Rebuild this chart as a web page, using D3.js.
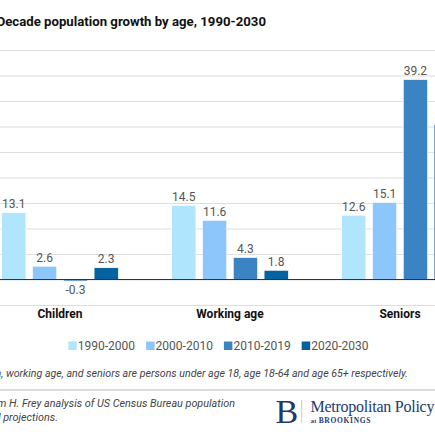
<!DOCTYPE html>
<html>
<head>
<meta charset="utf-8">
<script src="https://cdn.jsdelivr.net/npm/d3@7"></script>
<style>
  body { margin: 0; background: #fff; overflow: hidden; }
  svg { display: block; font-family: Roboto, "Noto Sans", sans-serif; }
</style>
</head>
<body>
<script>
// chart data
const categories = ["Children", "Working age", "Seniors"];
const periods = ["1990-2000", "2000-2010", "2010-2019", "2020-2030"];
const growth1990 = [13.1, 14.5, 12.6];
const growth2000 = [2.6, 11.6, 15.1];
const growth2010 = [-0.3, 4.3, 39.2];
const growth2020 = [2.3, 1.8, 30.4];
const yTicks = [-5, 0, 5, 10, 15, 20, 25, 30, 35, 40, 45];
const colors = ["#b0e6fd", "#8cc6fb", "#3c83c4", "#05629f"];

const w = 435;
const h = 435;

const svg = d3.select("body")
    .append("svg")
    .attr("width", w)
    .attr("height", h);

// rows: one entry per category, values in period order
const allSeries = [growth1990, growth2000, growth2010, growth2020];
const rows = categories.map((c, i) => ({
    cat: c,
    values: periods.map((p, j) => ({ period: p, value: allSeries[j][i] }))
}));

// scales
const y = d3.scaleLinear().domain([-5, 45]).range([305, 50]);

const x0 = d3.scaleBand()
    .domain(categories)
    .range([-25, 485])
    .paddingInner(0.314)
    .paddingOuter(0.157);

const x1 = d3.scaleBand()
    .domain(periods)
    .range([0, x0.bandwidth()])
    .paddingInner(0.214);

const color = d3.scaleOrdinal().domain(periods).range(colors);

// title
const title = svg.append("text")
    .attr("y", 26)
    .attr("font-size", 13.2)
    .attr("font-weight", 700)
    .attr("fill", "#111")
    .text("Decade population growth by age, 1990-2030");
title.attr("x", 266 - title.node().getComputedTextLength());

// gridlines (axis sits left of the visible area so its labels are cut off like the original)
const yAxis = d3.axisLeft(y).tickValues(yTicks).tickSize(-(w + 20));
svg.append("g")
    .attr("transform", "translate(-8,0)")
    .call(yAxis)
    .call(g => g.select(".domain").remove())
    .call(g => g.selectAll(".tick line").attr("stroke", "#dedede").attr("stroke-width", 1.2));

// bars
const groups = svg.selectAll("g.grp")
    .data(rows)
    .enter()
    .append("g")
    .attr("class", "grp")
    .attr("transform", d => "translate(" + x0(d.cat) + ",0)");

groups.selectAll("rect")
    .data(d => d.values)
    .enter()
    .append("rect")
    .attr("x", d => x1(d.period))
    .attr("width", x1.bandwidth())
    .attr("y", d => y(Math.max(0, d.value)))
    .attr("height", d => Math.abs(y(d.value) - y(0)))
    .attr("fill", d => color(d.period))
    .attr("stroke", "#fff")
    .attr("stroke-width", 0.6);

// value labels
groups.selectAll("text.val")
    .data(d => d.values)
    .enter()
    .append("text")
    .attr("class", "val")
    .attr("x", d => x1(d.period) + x1.bandwidth() / 2)
    .attr("y", d => d.value >= 0 ? y(d.value) - 4.5 : y(d.value) + 13)
    .attr("text-anchor", "middle")
    .attr("font-size", 12)
    .attr("fill", "#555")
    .text(d => d.value.toFixed(1));

// zero baseline
svg.append("line")
    .attr("x1", 0).attr("x2", w)
    .attr("y1", y(0)).attr("y2", y(0))
    .attr("stroke", "#333")
    .attr("stroke-width", 1.2);

// category labels
svg.selectAll("text.cat")
    .data(categories)
    .enter()
    .append("text")
    .attr("class", "cat")
    .attr("x", d => x0(d) + x0.bandwidth() / 2)
    .attr("y", 318)
    .attr("text-anchor", "middle")
    .attr("font-size", 12)
    .attr("font-weight", 700)
    .attr("fill", "#111")
    .text(d => d);

// legend
const legend = svg.selectAll("g.leg")
    .data(periods)
    .enter()
    .append("g")
    .attr("class", "leg")
    .attr("transform", (d, i) => "translate(" + (68.3 + i * 77.8) + ",341.5)");

legend.append("rect")
    .attr("width", 8.5)
    .attr("height", 8.5)
    .attr("fill", d => color(d));

legend.append("text")
    .attr("x", 9.5)
    .attr("y", 8.5)
    .attr("font-size", 12)
    .attr("fill", "#555")
    .text(d => d);

// note
svg.append("text")
    .attr("x", 408)
    .attr("y", 377)
    .attr("text-anchor", "end")
    .attr("font-size", 10.65)
    .attr("font-style", "italic")
    .attr("fill", "#444")
    .text("Note: Children, working age, and seniors are persons under age 18, age 18-64 and age 65+ respectively.");

svg.append("line")
    .attr("x1", 0).attr("x2", w)
    .attr("y1", 390).attr("y2", 390)
    .attr("stroke", "#bbb")
    .attr("stroke-width", 1.2);

// source
const src1 = svg.append("text")
    .attr("y", 407)
    .attr("font-size", 10.8)
    .attr("font-style", "italic")
    .attr("fill", "#444")
    .text("Source: William H. Frey analysis of US Census Bureau population");
const srcX = 235 - src1.node().getComputedTextLength();
src1.attr("x", srcX);
svg.append("text")
    .attr("x", srcX)
    .attr("y", 421)
    .attr("font-size", 10.8)
    .attr("font-style", "italic")
    .attr("fill", "#444")
    .text("estimates and projections.");

// Brookings logo
const navy = "#1d3a6e";
svg.append("text")
    .attr("x", 275.5)
    .attr("y", 423)
    .attr("font-family", "'Liberation Serif', 'DejaVu Serif', serif")
    .attr("font-size", 34)
    .attr("fill", navy)
    .text("B");
svg.append("line")
    .attr("x1", 301.7).attr("x2", 301.7)
    .attr("y1", 400).attr("y2", 423)
    .attr("stroke", "#ccc")
    .attr("stroke-width", 1);
svg.append("text")
    .attr("x", 310.5)
    .attr("y", 411.5)
    .attr("font-family", "'Liberation Serif', 'DejaVu Serif', serif")
    .attr("font-size", 16)
    .attr("letter-spacing", -0.25)
    .attr("fill", navy)
    .text("Metropolitan Policy Program");
svg.append("text")
    .attr("x", 310.7)
    .attr("y", 422.5)
    .attr("font-family", "'Liberation Serif', 'DejaVu Serif', serif")
    .attr("font-weight", 700)
    .attr("fill", navy)
    .call(t => t.append("tspan").attr("font-size", 6.5).attr("letter-spacing", 0.3).text("at "))
    .call(t => t.append("tspan").attr("font-size", 7.5).attr("letter-spacing", 0.7).text("BROOKINGS"));
</script>
</body>
</html>
